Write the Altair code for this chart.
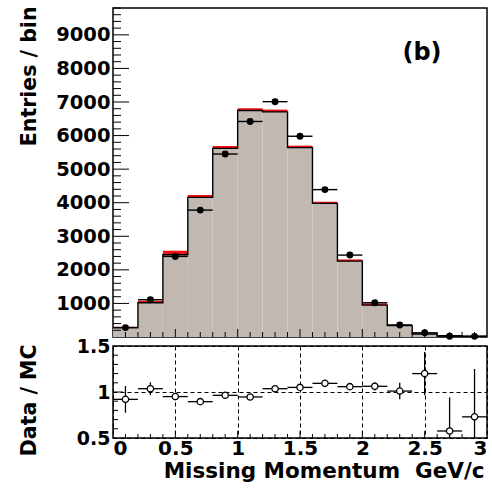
import altair as alt
import pandas as pd

# ---------------- data ----------------
bin_lo = [0.0, 0.2, 0.4, 0.6, 0.8, 1.0, 1.2, 1.4, 1.6, 1.8, 2.0, 2.2, 2.4, 2.6, 2.8]
bin_hi = [0.2, 0.4, 0.6, 0.8, 1.0, 1.2, 1.4, 1.6, 1.8, 2.0, 2.2, 2.4, 2.6, 2.8, 3.0]
bin_center = [0.1, 0.3, 0.5, 0.7, 0.9, 1.1, 1.3, 1.5, 1.7, 1.9, 2.1, 2.3, 2.5, 2.7, 2.9]

mc_main = [280, 1020, 2450, 4160, 5620, 6745, 6705, 5640, 3980, 2260, 950, 340, 90, 36, 22]
mc_total = [305, 1080, 2570, 4230, 5690, 6815, 6775, 5700, 4030, 2310, 1000, 360, 105, 42, 26]
data_counts = [280, 1110, 2400, 3780, 5450, 6420, 7010, 5980, 4390, 2440, 1020, 360, 125, 24, 19]
data_err = [17, 33, 49, 61, 74, 80, 84, 77, 66, 49, 32, 19, 11, 5, 4]

ratio = [0.92, 1.036, 0.95, 0.895, 0.964, 0.946, 1.036, 1.05, 1.094, 1.058, 1.062, 1.01, 1.2, 0.576, 0.73]
ratio_err = [0.145, 0.07, 0.035, 0.03, 0.025, 0.022, 0.02, 0.022, 0.027, 0.035, 0.045, 0.09, 0.235, 0.365, 0.52]

top_y_labels = [1000, 2000, 3000, 4000, 5000, 6000, 7000, 8000, 9000]
top_y_minor = [v for v in range(200, 9801, 200) if v % 1000 != 0]
x_major_ticks = [0.5, 1.0, 1.5, 2.0, 2.5]
x_minor_ticks = [0.1, 0.2, 0.3, 0.4, 0.6, 0.7, 0.8, 0.9, 1.1, 1.2, 1.3, 1.4, 1.6, 1.7, 1.8, 1.9,
                 2.1, 2.2, 2.3, 2.4, 2.6, 2.7, 2.8, 2.9]
x_labels = [0, 0.5, 1, 1.5, 2, 2.5, 3]
ratio_y_labels = [0.5, 1, 1.5]
ratio_y_major = [1.0]
ratio_y_minor = [0.6, 0.7, 0.8, 0.9, 1.1, 1.2, 1.3, 1.4]

FONT = "DejaVu Sans"
W, H_TOP, H_RAT = 374, 329, 92
GRAY = "#c1b9b1"
RED = "#f01010"

df = pd.DataFrame(dict(lo=bin_lo, hi=bin_hi, c=bin_center, main=mc_main, total=mc_total,
                       data=data_counts, derr=data_err, r=ratio, rerr=ratio_err))
df["dlo"] = df["data"] - df["derr"]
df["dhi"] = df["data"] + df["derr"]
df["rlo"] = df["r"] - df["rerr"]
df["rhi"] = df["r"] + df["rerr"]

step_df = pd.DataFrame({"x": bin_lo + [bin_hi[-1]], "y": mc_main + [mc_main[-1]]})

xs = alt.Scale(domain=[0, 3], nice=False, zero=False)
ys_top = alt.Scale(domain=[0, 9800], nice=False, zero=False)
ys_rat = alt.Scale(domain=[0.5, 1.5], nice=False, zero=False)

y_top_axis = alt.Axis(values=top_y_labels, format="d", ticks=False, domain=False, grid=False,
                      labelFont=FONT, labelFontWeight="bold", labelFontSize=19.5, labelPadding=3,
                      labelColor="black",
                      title="Entries / bin", titleFont=FONT, titleFontWeight="bold", titleFontSize=20.5,
                      titleAngle=-90, titleAlign="right", titleBaseline="middle",
                      titleX=-84, titleY=-2, titleColor="black")


def xt(field):
    return alt.X(field, type="quantitative", scale=xs, axis=None)


def yt(field):
    return alt.Y(field, type="quantitative", scale=ys_top, axis=y_top_axis)


base = alt.Chart(df)

mc_fill = base.mark_rect(color=GRAY).encode(x=xt("lo"), x2="hi", y=yt("main"), y2=alt.datum(0))
mc_red = base.mark_rect(color=RED).encode(x=xt("lo"), x2="hi", y=yt("main"), y2="total")
mc_line = alt.Chart(step_df).mark_line(interpolate="step-after", color="black", strokeWidth=1.4).encode(
    x=xt("x"), y=yt("y"))
d_h = base.mark_rule(color="black", strokeWidth=1.4).encode(x=xt("lo"), x2="hi", y=yt("data"))
d_v = base.mark_rule(color="black", strokeWidth=1.4).encode(x=xt("c"), y=yt("dlo"), y2="dhi")
d_pt = base.mark_circle(color="black", opacity=1, size=48).encode(x=xt("c"), y=yt("data"))

ymaj = alt.Chart(pd.DataFrame({"v": top_y_labels})).mark_rule(color="black", strokeWidth=1).encode(
    y=yt("v"), x=alt.value(0), x2=alt.value(16))
ymin = alt.Chart(pd.DataFrame({"v": top_y_minor})).mark_rule(color="black", strokeWidth=1).encode(
    y=yt("v"), x=alt.value(0), x2=alt.value(8))
xmaj = alt.Chart(pd.DataFrame({"v": x_major_ticks})).mark_rule(color="black", strokeWidth=1).encode(
    x=xt("v"), y=alt.value(H_TOP), y2=alt.value(H_TOP - 8))
xmin = alt.Chart(pd.DataFrame({"v": x_minor_ticks})).mark_rule(color="black", strokeWidth=1).encode(
    x=xt("v"), y=alt.value(H_TOP), y2=alt.value(H_TOP - 5))

label_b = alt.Chart(pd.DataFrame({"t": ["(b)"]})).mark_text(
    font=FONT, fontWeight="bold", fontSize=24, color="black", align="center", baseline="middle"
).encode(x=alt.value(309), y=alt.value(45), text="t:N")

top = alt.layer(mc_fill, mc_red, mc_line, ymaj, ymin, xmaj, xmin, d_h, d_v, d_pt, label_b).properties(
    width=W, height=H_TOP)

# ---------------- ratio panel ----------------
x_rat_axis = alt.Axis(values=x_labels, format="~g", ticks=False, domain=False,
                      grid=True, gridColor="black", gridDash=[4, 3], gridWidth=1,
                      labelFont=FONT, labelFontWeight="bold", labelFontSize=20, labelPadding=0,
                      labelColor="black", labelBaseline="top",
                      title="Missing Momentum\u00a0 GeV/c", titleFont=FONT, titleFontWeight="bold",
                      titleFontSize=21.5, titleAlign="right", titleBaseline="alphabetic",
                      titleX=W - 3, titleY=39, titleColor="black")
y_rat_axis = alt.Axis(values=ratio_y_labels, format="~g", ticks=False, domain=False,
                      grid=True, gridColor="black", gridDash=[4, 3], gridWidth=1,
                      labelFont=FONT, labelFontWeight="bold", labelFontSize=19, labelPadding=3,
                      labelColor="black",
                      title="Data / MC", titleFont=FONT, titleFontWeight="bold", titleFontSize=20.5,
                      titleAngle=-90, titleAlign="right", titleBaseline="middle",
                      titleX=-84, titleY=-2, titleColor="black")


def xr(field):
    return alt.X(field, type="quantitative", scale=xs, axis=x_rat_axis)


def yr(field):
    return alt.Y(field, type="quantitative", scale=ys_rat, axis=y_rat_axis)


r_h = base.mark_rule(color="black", strokeWidth=1.3, clip=True).encode(x=xr("lo"), x2="hi", y=yr("r"))
r_v = base.mark_rule(color="black", strokeWidth=1.3, clip=True).encode(x=xr("c"), y=yr("rlo"), y2="rhi")
r_pt = base.mark_point(shape="circle", filled=True, fill="white", stroke="black", strokeWidth=1.3,
                       size=40, opacity=1, clip=True).encode(x=xr("c"), y=yr("r"))

rymaj = alt.Chart(pd.DataFrame({"v": ratio_y_major})).mark_rule(color="black", strokeWidth=1).encode(
    y=yr("v"), x=alt.value(0), x2=alt.value(10))
rymin = alt.Chart(pd.DataFrame({"v": ratio_y_minor})).mark_rule(color="black", strokeWidth=1).encode(
    y=yr("v"), x=alt.value(0), x2=alt.value(5))
rxmaj = alt.Chart(pd.DataFrame({"v": x_major_ticks})).mark_rule(color="black", strokeWidth=1).encode(
    x=xr("v"), y=alt.value(H_RAT), y2=alt.value(H_RAT - 7))
rxmin = alt.Chart(pd.DataFrame({"v": x_minor_ticks})).mark_rule(color="black", strokeWidth=1).encode(
    x=xr("v"), y=alt.value(H_RAT), y2=alt.value(H_RAT - 4))

bottom = alt.layer(rymaj, rymin, rxmaj, rxmin, r_h, r_v, r_pt).properties(width=W, height=H_RAT)

chart = alt.vconcat(top, bottom, spacing=9, bounds="flush").properties(
    padding={"left": 18, "top": 5, "right": 0, "bottom": 0},
    background="white",
).configure_view(stroke="black", strokeWidth=1.5)

chart.save("out.html", embed_options={"renderer": "svg", "actions": False})
